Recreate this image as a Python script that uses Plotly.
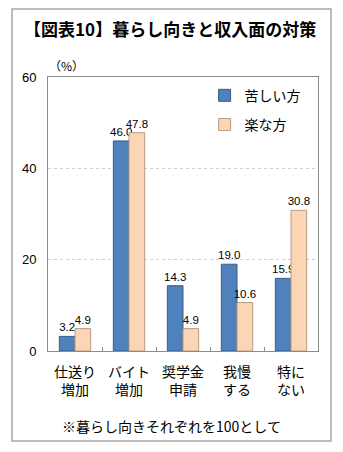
import plotly.graph_objects as go

categories = ["仕送り<br>増加", "バイト<br>増加", "奨学金<br>申請", "我慢<br>する", "特に<br>ない"]
series_names = ["苦しい方", "楽な方"]
hard_values = [3.2, 46.0, 14.3, 19.0, 15.9]
easy_values = [4.9, 47.8, 4.9, 10.6, 30.8]
y_ticks = [0, 20, 40, 60]

title_text = "【図表10】暮らし向きと収入面の対策"
unit_text = "（%）"
note_text = "※暮らし向きそれぞれを100として"

FONT = "Noto Sans CJK JP"
NUMFONT = "Liberation Sans"

fig = go.Figure()
fig.add_trace(go.Bar(
    x=categories, y=hard_values, name=series_names[0],
    marker=dict(color="#4F81BD", line=dict(color="#385D8A", width=1)),
    text=[f"{v:.1f}" for v in hard_values], textposition="outside", textangle=0,
    constraintext="none",
    textfont=dict(size=11.5, color="#000000", family=NUMFONT),
    cliponaxis=False, legendgroup="a",
))
fig.add_trace(go.Bar(
    x=categories, y=easy_values, name=series_names[1],
    marker=dict(color="#FCD5B5", line=dict(color="#B79C85", width=1)),
    text=[f"{v:.1f}" for v in easy_values], textposition="outside", textangle=0,
    constraintext="none",
    textfont=dict(size=11.5, color="#000000", family=NUMFONT),
    cliponaxis=False, legendgroup="b",
))

fig.update_layout(
    width=343, height=452,
    margin=dict(l=48, r=25, t=77, b=101),
    paper_bgcolor="white", plot_bgcolor="white",
    font=dict(family=FONT, color="#000000", size=13),
    barmode="group", bargap=0.42, bargroupgap=0,
    title=dict(text=title_text, x=0.496, xanchor="center", y=1 - 30 / 452, yanchor="middle",
               font=dict(size=17, family=FONT, color="#000000", weight="bold")),
    legend=dict(x=0.58, y=0.99, xanchor="left", yanchor="top", bgcolor="rgba(0,0,0,0)",
                font=dict(size=14, family=FONT), tracegroupgap=8, traceorder="grouped",
                itemwidth=30),
    showlegend=True,
)

fig.update_xaxes(
    type="category", showline=True, linecolor="#8c8c8c", linewidth=1, mirror=True,
    ticks="inside", tickson="boundaries", ticklen=4, tickcolor="#8c8c8c",
    tickfont=dict(size=14, family=FONT), showgrid=False, ticklabelstandoff=8,
)
fig.update_yaxes(
    range=[0, 60], tickvals=y_ticks, showline=True, linecolor="#8c8c8c", linewidth=1, mirror=True,
    showgrid=True, gridcolor="#cfcfcf", griddash="dot", gridwidth=1,
    ticks="", tickfont=dict(size=13, family=NUMFONT), ticklabelstandoff=8, zeroline=False,
)

W, H = 270, 274
fig.add_shape(type="rect", xref="paper", yref="paper",
              x0=(12 - 48) / W, x1=(331 - 48) / W, y0=(351 - 441) / H, y1=(351 - 9) / H,
              line=dict(color="#a6a6a6", width=1.5), fillcolor="rgba(0,0,0,0)", layer="below")

fig.add_annotation(text=unit_text, xref="paper", yref="paper", x=(66 - 48) / W, y=(351 - 65) / H,
                   showarrow=False, font=dict(size=12, family=FONT), xanchor="center", yanchor="middle")
fig.add_annotation(text=note_text, xref="paper", yref="paper", x=(171 - 48) / W, y=(351 - 426) / H,
                   showarrow=False, font=dict(size=14, family=FONT), xanchor="center", yanchor="middle")

fig.write_html("out.html")
